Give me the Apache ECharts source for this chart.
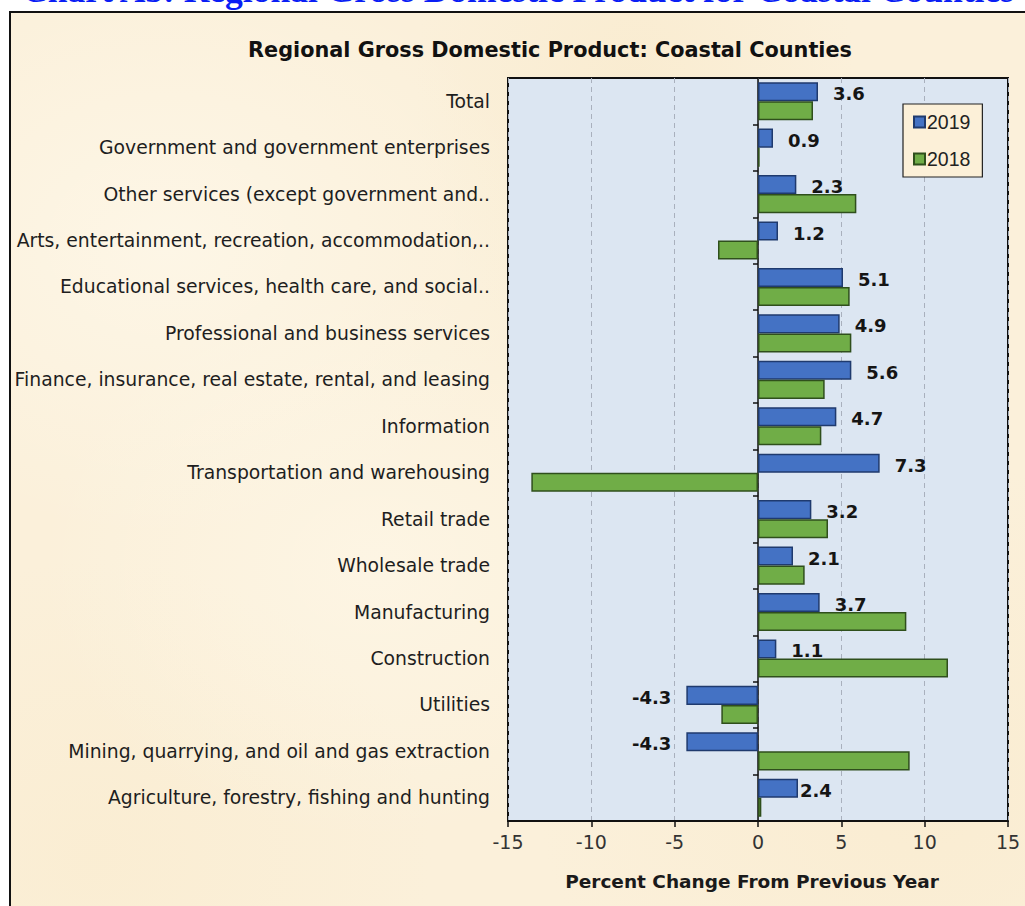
<!DOCTYPE html>
<html>
<head>
<meta charset="utf-8">
<script src="https://cdn.jsdelivr.net/npm/echarts@6/dist/echarts.min.js"></script>
<style>
  html, body { margin: 0; padding: 0; background: #ffffff; width: 1025px; height: 906px; overflow: hidden; }
  #frame {
    position: absolute; left: 9px; top: 11px; width: 1040px; height: 920px;
    border: 2px solid #111;
    background-color: #fbf0da;
    background-image:
      radial-gradient(ellipse at 15% 25%, rgba(255,251,240,0.55) 0%, rgba(255,251,240,0) 30%),
      radial-gradient(ellipse at 60% 8%, rgba(247,230,195,0.4) 0%, rgba(247,230,195,0) 25%),
      radial-gradient(ellipse at 35% 60%, rgba(255,250,237,0.5) 0%, rgba(255,250,237,0) 35%),
      radial-gradient(ellipse at 88% 85%, rgba(248,231,197,0.4) 0%, rgba(248,231,197,0) 30%),
      radial-gradient(ellipse at 8% 92%, rgba(249,233,200,0.4) 0%, rgba(249,233,200,0) 25%);
  }
  #chart { position: absolute; left: 0; top: 0; width: 1025px; height: 906px; }
</style>
</head>
<body>
<div id="frame"></div>
<div id="chart"></div>
<script>
const categories = [
  "Total",
  "Government and government enterprises",
  "Other services (except government and..",
  "Arts, entertainment, recreation, accommodation,..",
  "Educational services, health care, and social..",
  "Professional and business services",
  "Finance, insurance, real estate, rental, and leasing",
  "Information",
  "Transportation and warehousing",
  "Retail trade",
  "Wholesale trade",
  "Manufacturing",
  "Construction",
  "Utilities",
  "Mining, quarrying, and oil and gas extraction",
  "Agriculture, forestry, fishing and hunting"
];
const values2019 = [3.6, 0.9, 2.3, 1.2, 5.1, 4.9, 5.6, 4.7, 7.3, 3.2, 2.1, 3.7, 1.1, -4.3, -4.3, 2.4];
const values2018 = [3.3, 0.1, 5.9, -2.4, 5.5, 5.6, 4.0, 3.8, -13.6, 4.2, 2.8, 8.9, 11.4, -2.2, 9.1, 0.2];
const xTicks = [-15, -10, -5, 0, 5, 10, 15];
const pageTitle = "Chart A5: Regional Gross Domestic Product for Coastal Counties";
const chartTitle = "Regional Gross Domestic Product: Coastal Counties";
const xAxisTitle = "Percent Change From Previous Year";

const chart = echarts.init(document.getElementById('chart'), null, { renderer: 'svg' });

const sans = 'DejaVu Sans, Liberation Sans, sans-serif';
const arial = 'Liberation Sans, Arial, sans-serif';

const data2019 = values2019.map((v, i) => ({
  value: v,
  label: {
    position: v < 0 ? 'left' : 'right',
    distance: i === values2019.length - 1 ? 2 : 15
  }
}));

const option = {
  backgroundColor: 'transparent',
  animation: false,
  title: {
    text: chartTitle,
    left: 545,
    top: 34,
    textAlign: 'center',
    textStyle: { fontFamily: sans, fontSize: 20.8, fontWeight: 'bold', color: '#111' }
  },
  graphic: [
    {
      type: 'text',
      left: 22,
      top: -28,
      style: {
        text: pageTitle,
        fontFamily: 'Liberation Serif, serif',
        fontWeight: 'bold',
        fontSize: 35.5,
        fill: '#0a1ef5'
      }
    }
  ],
  legend: {
    data: ['2019', '2018'],
    orient: 'vertical',
    left: 903,
    top: 104,
    padding: [8, 12, 8, 10],
    itemGap: 17,
    itemWidth: 11,
    itemHeight: 11,
    backgroundColor: '#fcf0d8',
    borderColor: '#222',
    borderWidth: 1.2,
    icon: 'rect',
    textStyle: { fontFamily: arial, fontSize: 19.5, color: '#222', padding: [0, 0, 0, -3] }
  },
  grid: {
    left: 508,
    right: 17,
    top: 78,
    bottom: 85,
    show: true,
    backgroundColor: '#dce6f2',
    borderColor: '#111',
    borderWidth: 2,
    containLabel: false
  },
  xAxis: {
    type: 'value',
    min: -15,
    max: 15,
    interval: 5,
    name: xAxisTitle,
    nameLocation: 'middle',
    nameGap: 51,
    nameTextStyle: { fontFamily: sans, fontSize: 18.5, fontWeight: 'bold', color: '#1a1a1a', padding: [0, 12, 0, 0] },
    axisLine: { show: true, lineStyle: { color: '#111', width: 2 } },
    axisTick: { show: true, length: 6, lineStyle: { color: '#111', width: 1.5 } },
    axisLabel: {
      fontFamily: sans, fontSize: 19, color: '#333', margin: 11,
      formatter: v => xTicks.includes(v) ? String(v) : ''
    },
    splitLine: { show: true, lineStyle: { color: '#a9b0bd', type: [5, 4], width: 1 } }
  },
  yAxis: [
    {
      type: 'category',
      data: categories,
      inverse: true,
      position: 'left',
      axisLine: { show: false, onZero: false },
      axisTick: { show: false },
      axisLabel: { fontFamily: sans, fontSize: 18.8, color: '#1e1e1e', margin: 18 }
    },
    {
      type: 'category',
      data: categories,
      inverse: true,
      position: 'left',
      axisLine: { show: true, onZero: true, lineStyle: { color: '#111', width: 1.5 } },
      axisTick: { show: true, length: 5, lineStyle: { color: '#111', width: 1.5 } },
      axisLabel: { show: false }
    }
  ],
  series: [
    {
      name: '2019',
      type: 'bar',
      data: data2019,
      barGap: '0%',
      barCategoryGap: '18%',
      itemStyle: { color: '#4472c4', borderColor: '#1f3a6e', borderWidth: 1.5 },
      label: {
        show: true,
        fontFamily: sans,
        fontSize: 18,
        fontWeight: 'bold',
        color: '#151515',
        offset: [0, 2],
        formatter: p => p.value.toFixed(1)
      },
      z: 3
    },
    {
      name: '2018',
      type: 'bar',
      data: values2018,
      barGap: '0%',
      barCategoryGap: '18%',
      itemStyle: { color: '#70ad47', borderColor: '#2f4f1c', borderWidth: 1.5 },
      z: 3
    }
  ]
};

chart.setOption(option);
</script>
</body>
</html>
